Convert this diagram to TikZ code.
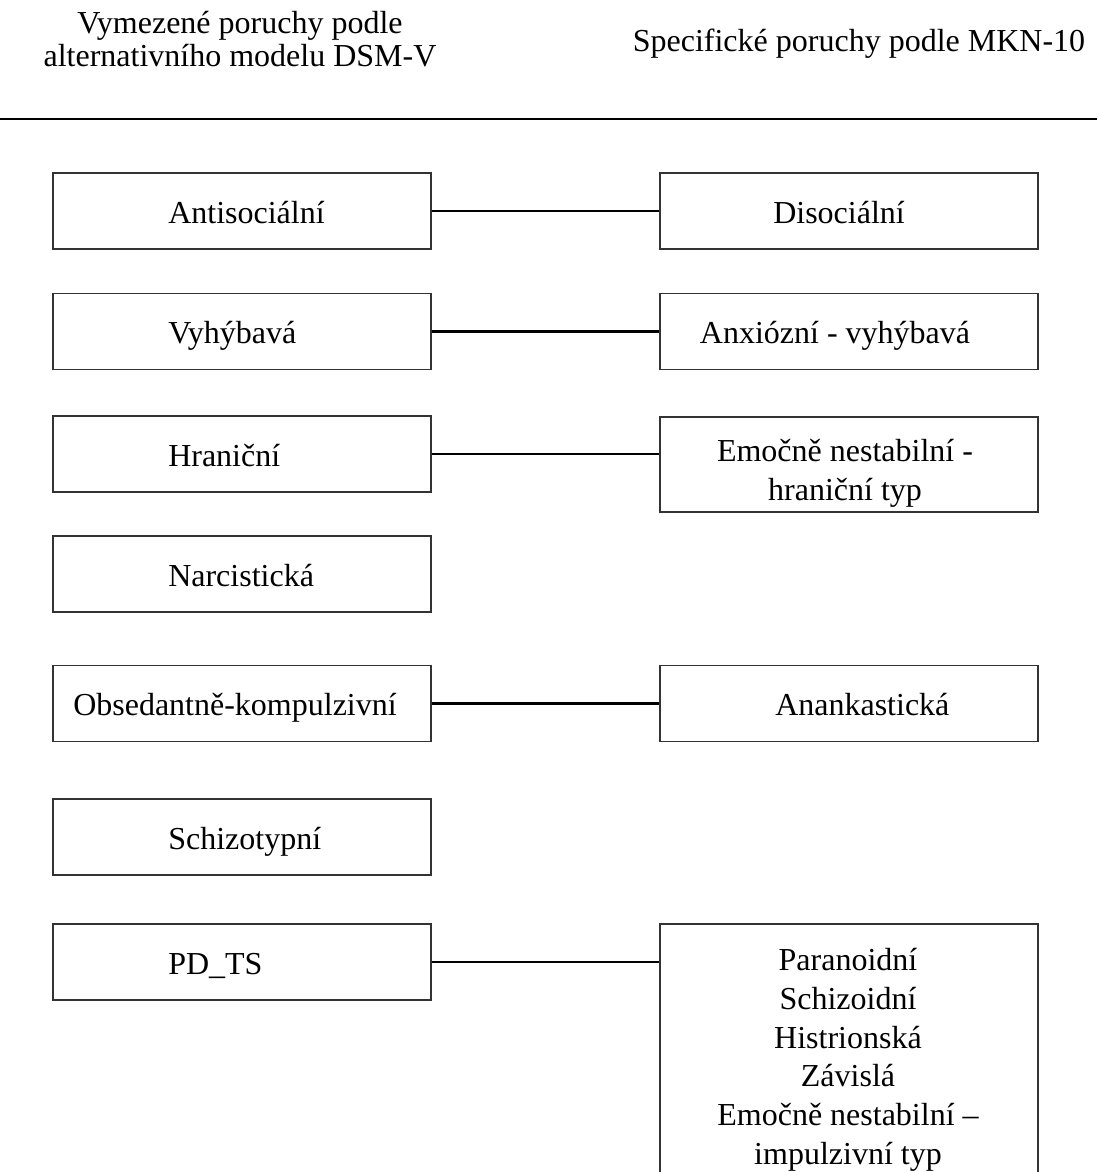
\documentclass[tikz,border=0pt]{standalone}
\usepackage{fontspec}
\setmainfont{Liberation Serif}
\usepackage{tikz}

\begin{document}
\begin{tikzpicture}[x=0.75pt,y=0.75pt,yscale=-1,xscale=1,
  box/.style={draw=black!80, line width=0.9pt, minimum width=283.5pt, minimum height=57pt, inner sep=0pt},
  lbl/.style={inner sep=0pt, font=\fontsize{24}{29.5}\selectfont},
  link/.style={draw=black, line width=2pt}]
\useasboundingbox (0,0) rectangle (1097,1172);
\clip (0,0) rectangle (1097,1172);

% Text Node
\node [lbl, anchor=north, align=center, font=\fontsize{24}{24.75}\selectfont] (hdr-dsm) at (240,11) {Vymezené poruchy podle\\alternativního modelu DSM-V};
% Text Node
\node [lbl, anchor=base] (hdr-mkn) at (859,51) {Specifické poruchy podle MKN-10};

%Straight Lines
\draw [line width=1.8pt] (0,119) -- (1097,119) ;

%Shape: Rectangle
\node [box] (antisoc) at (242,211) {};
\node [box] (vyhyb) at (242,331.5) {};
\node [box] (hranic) at (242,454) {};
\node [box] (narcis) at (242,574) {};
\node [box] (obsed) at (242,703.5) {};
\node [box] (schizo) at (242,837) {};
\node [box] (pdts) at (242,962) {};

%Shape: Rectangle
\node [box] (disoc) at (849,211) {};
\node [box] (anxvyh) at (849,331.5) {};
\node [box, minimum height=71.25pt] (emohran) at (849,464.5) {};
\node [box] (anank) at (849,703.5) {};
\node [box, minimum height=207pt] (ostatni) at (849,1062) {};

% Text Node
\node [lbl, anchor=base west] (t-antisoc) at (168,223) {Antisociální};
% Text Node
\node [lbl, anchor=base west] (t-vyhyb) at (168,343.5) {Vyhýbavá};
% Text Node
\node [lbl, anchor=base west] (t-hranic) at (168,466) {Hraniční};
% Text Node
\node [lbl, anchor=base west] (t-narcis) at (168,586) {Narcistická};
% Text Node
\node [lbl, anchor=base west] (t-obsed) at (73,715.5) {Obsedantně-kompulzivní};
% Text Node
\node [lbl, anchor=base west] (t-schizo) at (168,849) {Schizotypní};
% Text Node
\node [lbl, anchor=base west] (t-pdts) at (168,974) {PD\_TS};

% Text Node
\node [lbl, anchor=base west] (t-disoc) at (773,223) {Disociální};
% Text Node
\node [lbl, anchor=base] (t-anxvyh) at (835,343.5) {Anxiózní - vyhýbavá};
% Text Node
\node [lbl, anchor=north, align=center] (t-emohran) at (845,439) {Emočně nestabilní -\\hraniční typ};
% Text Node
\node [lbl, anchor=base west] (t-anank) at (775,715.5) {Anankastická};
% Text Node
\node [lbl, anchor=north, align=center, font=\fontsize{24}{29.1}\selectfont] (t-ostatni) at (848,948) {Paranoidní\\Schizoidní\\Histrionská\\Závislá\\Emočně nestabilní –\\impulzivní typ};

%Straight Lines
\draw [link] (antisoc.east) -- (disoc.west) ;
\draw [link] (vyhyb.east) -- (anxvyh.west) ;
\draw [link] (hranic.east) -- (hranic.east -| emohran.west) ;
\draw [link] (obsed.east) -- (anank.west) ;
\draw [link] (pdts.east) -- (pdts.east -| ostatni.west) ;

\end{tikzpicture}
\end{document}
